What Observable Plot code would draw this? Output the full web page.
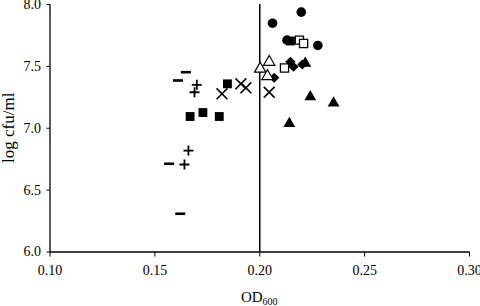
<!DOCTYPE html>
<html>
<head>
<meta charset="utf-8">
<script src="https://cdn.jsdelivr.net/npm/d3@7"></script>
<script src="https://cdn.jsdelivr.net/npm/@observablehq/plot@0.6"></script>
<style>
  html, body { margin: 0; padding: 0; background: #fff; }
  #chart svg { display: block; }
</style>
</head>
<body>
<div id="chart"></div>
<script>
// ---- data (OD600, log cfu/ml) per symbol series ----
const circleX = [0.2061, 0.2198, 0.2277, 0.2130];
const circleY = [7.849, 7.938, 7.669, 7.712];

const squareX = [0.2146, 0.1846, 0.1668, 0.1729, 0.1807];
const squareY = [7.705, 7.359, 7.095, 7.127, 7.095];

const openSquareX = [0.2189, 0.2209, 0.2118];
const openSquareY = [7.712, 7.685, 7.487];

const openTriangleX = [0.2045, 0.2002, 0.2037];
const openTriangleY = [7.535, 7.480, 7.420];

const triangleX = [0.2217, 0.2241, 0.2352, 0.2141];
const triangleY = [7.525, 7.253, 7.204, 7.037];

const diamondX = [0.2069, 0.2146, 0.2161, 0.2203];
const diamondY = [7.408, 7.537, 7.497, 7.515];

const timesX = [0.2045, 0.1820, 0.1910, 0.1934];
const timesY = [7.291, 7.278, 7.359, 7.327];

const plusX = [0.1700, 0.1689, 0.1660, 0.1641];
const plusY = [7.351, 7.291, 6.820, 6.707];

const minusX = [0.1648, 0.1610, 0.1568, 0.1621];
const minusY = [7.453, 7.386, 6.713, 6.309];

const xTicks = [0.10, 0.15, 0.20, 0.25, 0.30];
const yTicks = [6.0, 6.5, 7.0, 7.5, 8.0];
const thresholdOD = [0.20];
const xLabelMain = "OD";
const xLabelSub = "600";
const yLabel = "log cfu/ml";

const zip = (xs, ys) => xs.map((x, i) => ({x, y: ys[i]}));

// custom "minus" symbol
const symbolMinus = {
  draw(context, size) {
    const w = Math.sqrt(size / Math.PI);
    context.moveTo(-w, 0);
    context.lineTo(w, 0);
  }
};

const FONT = "'Liberation Serif', 'Times New Roman', serif";

const plot = Plot.plot({
  width: 480,
  height: 306,
  marginLeft: 49.5,
  marginRight: 11,
  marginTop: 4,
  marginBottom: 54.5,
  style: {fontFamily: FONT, fontSize: "14px", color: "#000", background: "#fff"},
  x: {domain: [0.10, 0.30]},
  y: {domain: [6, 8]},
  marks: [
    Plot.axisX({ticks: xTicks, tickFormat: d3.format(".2f"), tickSize: 5, tickPadding: 8, label: null}),
    Plot.axisY({ticks: yTicks, tickFormat: d3.format(".1f"), tickSize: 3, tickPadding: 6, label: null}),
    Plot.ruleX([0.10], {stroke: "#000", strokeWidth: 1.3}),
    Plot.ruleY([6], {stroke: "#000", strokeWidth: 1.3}),
    Plot.ruleX(thresholdOD, {stroke: "#000", strokeWidth: 1.5}),
    Plot.dot(zip(circleX, circleY), {x: "x", y: "y", symbol: "circle", r: 4.8, fill: "#000", stroke: "none"}),
    Plot.dot(zip(squareX, squareY), {x: "x", y: "y", symbol: "square", r: 5, fill: "#000", stroke: "none"}),
    Plot.dot(zip(openSquareX, openSquareY), {x: "x", y: "y", symbol: "square", r: 4.6, fill: "#fff", stroke: "#000", strokeWidth: 1.3}),
    Plot.dot(zip(diamondX, diamondY), {x: "x", y: "y", symbol: "diamond2", r: 4.6, fill: "#000", stroke: "none"}),
    Plot.dot(zip(triangleX, triangleY), {x: "x", y: "y", symbol: "triangle", r: 4.4, fill: "#000", stroke: "none"}),
    Plot.dot(zip(openTriangleX, openTriangleY), {x: "x", y: "y", symbol: "triangle", r: 4.2, fill: "#fff", stroke: "#000", strokeWidth: 1.2}),
    Plot.dot(zip(timesX, timesY), {x: "x", y: "y", symbol: "times", r: 5, fill: "none", stroke: "#000", strokeWidth: 1.6}),
    Plot.dot(zip(plusX, plusY), {x: "x", y: "y", symbol: "plus", r: 3.3, fill: "none", stroke: "#000", strokeWidth: 1.8}),
    Plot.dot(zip(minusX, minusY), {x: "x", y: "y", symbol: symbolMinus, r: 5, fill: "none", stroke: "#000", strokeWidth: 2.6})
  ]
});

document.getElementById("chart").appendChild(plot);

const svg = d3.select(plot);
// make tick labels the reference's size and black
svg.selectAll('g[aria-label*="tick label"]').attr("font-size", 14).attr("fill", "#000");
svg.selectAll('g[aria-label*="tick label"] text').attr("font-size", 14).attr("fill", "#000");

// axis titles (positioned from the plot's scales)
const xr = plot.scale("x").range;
const yr = plot.scale("y").range;
const xl = svg.append("text")
  .attr("x", (xr[0] + xr[1]) / 2)
  .attr("y", 302)
  .attr("text-anchor", "middle")
  .attr("font-family", FONT)
  .attr("font-size", 15)
  .attr("fill", "#000");
xl.append("tspan").text(xLabelMain);
xl.append("tspan").attr("font-size", 10).attr("dy", 3).text(xLabelSub);

svg.append("text")
  .attr("transform", `translate(${14},${(yr[0] + yr[1]) / 2}) rotate(-90)`)
  .attr("text-anchor", "middle")
  .attr("font-family", FONT)
  .attr("font-size", 17)
  .attr("fill", "#000")
  .text(yLabel);
</script>
</body>
</html>
